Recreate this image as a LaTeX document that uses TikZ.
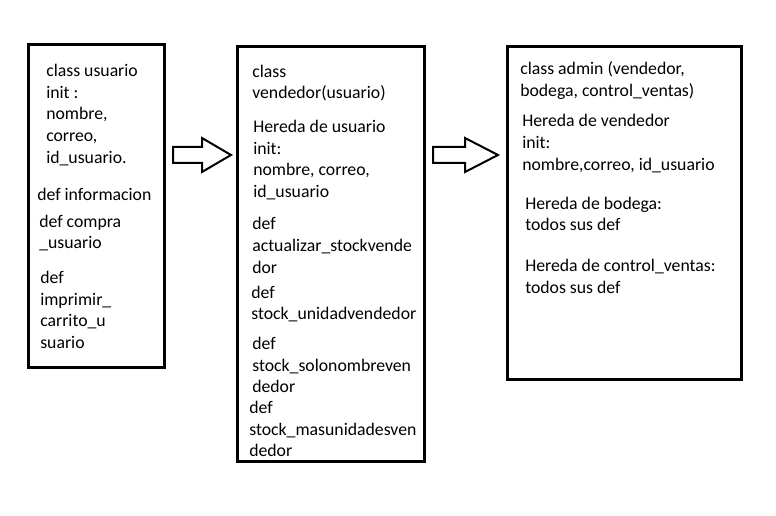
\documentclass[tikz,border=0pt]{standalone}
\usepackage{fontspec}
\setmainfont{Carlito}
\usetikzlibrary{positioning}

\begin{document}
\begin{tikzpicture}[x=0.75pt, y=-0.75pt,
  box/.style={draw, rectangle, line width=2.25pt},
  txt/.style={anchor=west, align=left, inner sep=0pt, font=\fontsize{13.3}{16.3}\selectfont}]

\useasboundingbox (0,0) rectangle (776,516);

% --- class usuario ---
\node (usuario_box) [box, minimum width=102pt, minimum height=242.25pt] at (96,206.5) {};
\node (usuario_init) [txt] at (46,115) {class usuario\\init :\\nombre,\\correo,\\id\_usuario.};
\node (usuario_info) [txt] at (37,194) {def informacion};
\node (usuario_compra) [txt] at (39,233) {def compra\\\_usuario};
\node (usuario_carrito) [txt] at (40,310) {def\\imprimir\_\\carrito\_u\\suario};

% --- class vendedor ---
\node (vendedor_box) [box, minimum width=140.25pt, minimum height=311.25pt] at (330.5,254.5) {};
\node (vendedor_class) [txt] at (252,83) {class\\vendedor(usuario)};
\node (vendedor_init) [txt] at (253,160) {Hereda de usuario\\init:\\nombre, correo,\\id\_usuario};
\node (vendedor_actualizar) [txt] at (252,245.5) {def\\actualizar\_stockvende\\dor};
\node (vendedor_unidad) [txt] at (251,304) {def\\stock\_unidadvendedor};
\node (vendedor_nombre) [txt] at (252,365) {def\\stock\_solonombreven\\dedor};
\node (vendedor_mas) [txt] at (249,429) {def\\stock\_masunidadesven\\dedor};

% --- class admin ---
\node (admin_box) [box, minimum width=175.5pt, minimum height=249.75pt] at (624,213.5) {};
\node (admin_class) [txt] at (520,80.5) {class admin (vendedor,\\bodega, control\_ventas)};
\node (admin_init) [txt] at (522,143.5) {Hereda de vendedor\\init:\\nombre,correo, id\_usuario};
\node (admin_bodega) [txt] at (525,214) {Hereda de bodega:\\todos sus def};
\node (admin_control) [txt] at (525,276.5) {Hereda de control\_ventas:\\todos sus def};

% --- arrows ---
\draw[line width=1.5pt, line join=miter] (173,147) -- (202,147) -- (202,138) -- (231,155)
  -- (202,172) -- (202,163) -- (173,163) -- cycle;
\draw[line width=1.5pt, line join=miter] (433,147) -- (465,147) -- (465,138) -- (498,155)
  -- (465,172) -- (465,163) -- (433,163) -- cycle;

\end{tikzpicture}
\end{document}
